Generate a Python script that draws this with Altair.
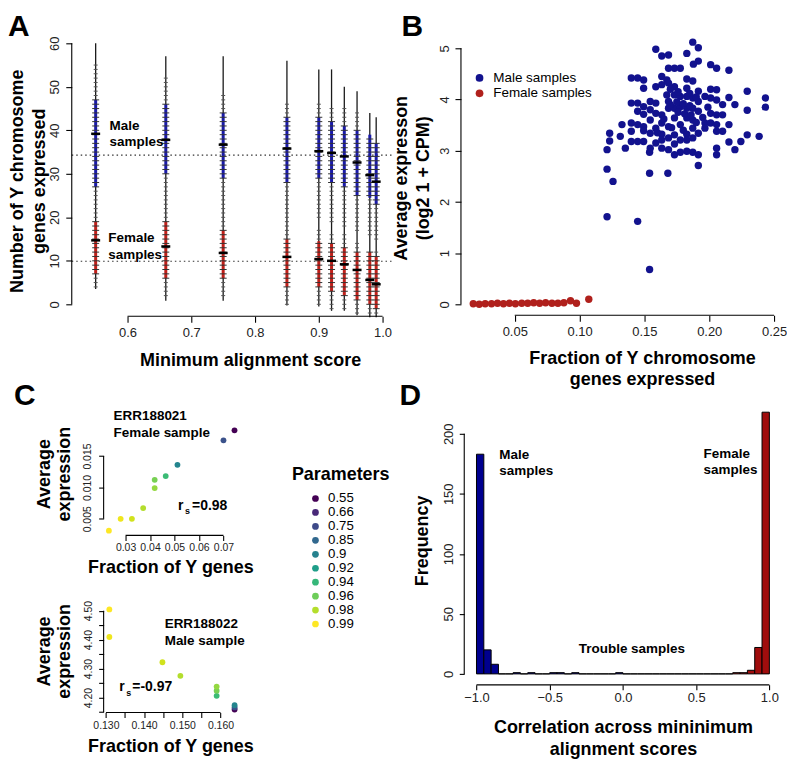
import altair as alt
import pandas as pd

FONT = "Liberation Sans"
INK = "#1a1a1a"
LABEL = "#222222"
BLUE_PT = "#12128e"
RED_PT = "#b0201c"
BLUE_BAR = "#00008f"
RED_BAR = "#a00d0d"
BEAN_BLUE = "#1a1aa8"
BEAN_RED = "#c0201a"
PARAM_COLORS = ["#440154", "#482878", "#3E4A89", "#31688E", "#26828E",
                "#1F9E89", "#35B779", "#6DCD59", "#B4DE2C", "#FDE725"]

# ================= Panel A data =================
A_params = [0.55, 0.66, 0.75, 0.85, 0.90, 0.92, 0.94, 0.96, 0.98, 0.99]
A_top = [60, 57, 57, 56, 54, 54, 50, 49, 44, 43]
A_bottom = [3.5, 0.8, 0.8, -0.3, -0.5, -1.5, -1.5, -2.5, -3.0, -3.0]
A_male_mean = [39.2, 37.8, 36.7, 35.8, 35.2, 34.8, 34.0, 32.6, 29.7, 28.2]
A_female_mean = [14.7, 13.3, 11.8, 10.9, 10.4, 10.0, 9.2, 7.9, 5.6, 4.6]
A_male_core_lo = [27, 30, 29, 28, 29, 28, 27, 25, 24.5, 23]
A_male_core_hi = [47, 46, 44, 43, 43, 42, 41, 40, 39, 37]
A_female_core_lo = [7, 6, 6, 4, 4, 3, 2, 1, 0, -1]
A_female_core_hi = [19, 19, 17, 15, 14.5, 14, 13, 12, 12, 11]
A_male_tick_lo = [22, 21, 20, 20, 20, 19, 18, 17, 16, 15]
A_male_tick_hi = [55, 52, 48, 46, 46, 45, 45, 44, 38, 37]
A_female_tick_lo = [4, 2, 2, 0, 0, -1, -1, -2, -2, -2]
A_female_tick_hi = [21, 20, 19, 19, 17, 16, 16, 14, 12, 12]
A_thresholds = [34.3, 9.9]
A_xticks = [0.6, 0.7, 0.8, 0.9, 1.0]
A_yticks = [0, 10, 20, 30, 40, 50, 60]
A_notes = ["Male\nsamples", "Female\nsamples"]
A_note_x = [0.5719, 0.5698]
A_note_y = [41.1, 15.2]

# ================= Panel B data =================
B_male_points = [
    (0.1873, 5.12), (0.1916, 5.01), (0.1588, 4.98), (0.1634, 4.85), (0.1686, 4.87),
    (0.1827, 4.90), (0.1916, 4.75), (0.1878, 4.69), (0.2011, 4.68), (0.2057, 4.61),
    (0.2152, 4.57), (0.1686, 4.61), (0.1732, 4.61), (0.1777, 4.61),
    (0.1399, 4.42), (0.1448, 4.42), (0.1494, 4.38), (0.1634, 4.45), (0.1673, 4.38),
    (0.1827, 4.40), (0.1873, 4.36),
    (0.1494, 4.22), (0.1588, 4.25), (0.1634, 4.29), (0.1686, 4.32), (0.1732, 4.25),
    (0.1827, 4.22), (0.1916, 4.16), (0.2011, 4.20), (0.2057, 4.19), (0.2293, 4.16),
    (0.1399, 3.93), (0.1448, 3.93), (0.1494, 3.86), (0.1545, 3.96), (0.1588, 3.93),
    (0.1673, 4.09), (0.1686, 3.96), (0.1732, 4.09), (0.1777, 4.06), (0.1827, 4.06),
    (0.1873, 4.03), (0.1916, 3.96), (0.1967, 4.06), (0.2011, 4.03), (0.2057, 3.99),
    (0.2103, 3.90), (0.2152, 4.04), (0.2198, 3.90), (0.2433, 4.03), (0.2433, 3.85),
    (0.2293, 3.79),
    (0.1448, 3.77), (0.1494, 3.71), (0.1545, 3.80), (0.1588, 3.73), (0.1634, 3.70),
    (0.1686, 3.83), (0.1732, 3.83), (0.1777, 3.86), (0.1827, 3.83), (0.1873, 3.83),
    (0.1916, 3.77), (0.2011, 3.73), (0.2057, 3.70), (0.2103, 3.70),
    (0.1545, 3.60), (0.1634, 3.54), (0.1732, 3.64), (0.1827, 3.64), (0.1873, 3.60),
    (0.1967, 3.54), (0.2011, 3.54), (0.2057, 3.51), (0.2152, 3.51),
    (0.1327, 3.51), (0.1399, 3.54), (0.1448, 3.51), (0.1494, 3.47), (0.1588, 3.44),
    (0.1686, 3.47), (0.1777, 3.51), (0.1873, 3.44), (0.1967, 3.44), (0.2103, 3.38),
    (0.1399, 3.38), (0.1494, 3.39), (0.1545, 3.34), (0.1634, 3.32), (0.1732, 3.31),
    (0.1827, 3.32), (0.1916, 3.34), (0.2057, 3.38),
    (0.1232, 3.34), (0.1314, 3.28), (0.1634, 3.21), (0.1686, 3.25), (0.1777, 3.21),
    (0.1827, 3.21), (0.1873, 3.25), (0.2293, 3.31), (0.2385, 3.28),
    (0.1232, 3.19), (0.1399, 3.18), (0.1448, 3.18), (0.1494, 3.18), (0.1588, 3.15),
    (0.1732, 3.13), (0.2152, 3.17), (0.2244, 3.18),
    (0.1353, 3.05), (0.1545, 3.05), (0.1634, 3.05), (0.1686, 3.02), (0.2057, 3.05),
    (0.2198, 3.02), (0.1212, 3.02),
    (0.1540, 2.97), (0.1777, 2.97), (0.1827, 2.99), (0.1873, 2.97), (0.1916, 2.92),
    (0.1732, 2.92), (0.2057, 2.92),
    (0.1916, 2.71), (0.1212, 2.64), (0.1258, 2.40), (0.1540, 2.56), (0.1681, 2.56),
    (0.1212, 1.71), (0.1448, 1.62), (0.1540, 0.68),
    (0.1700, 3.90), (0.1750, 3.95), (0.1800, 3.92), (0.1850, 3.88), (0.1760, 3.75),
    (0.1810, 3.72), (0.1860, 3.70), (0.1710, 3.45), (0.1800, 3.40), (0.1900, 3.55),
    (0.1650, 3.62), (0.1760, 4.15), (0.1850, 4.12), (0.1950, 3.65), (0.1600, 3.35),
    (0.1700, 4.20), (0.1900, 4.05), (0.1990, 3.85),
]
B_female_points = [
    (0.0180, 0.01), (0.0226, 0.00), (0.0272, 0.01), (0.0321, 0.01), (0.0367, 0.02),
    (0.0413, 0.01), (0.0459, 0.02), (0.0505, 0.01), (0.0554, 0.02), (0.0600, 0.02),
    (0.0646, 0.03), (0.0692, 0.02), (0.0738, 0.03), (0.0787, 0.02), (0.0833, 0.02),
    (0.0879, 0.03), (0.0930, 0.07), (0.0976, 0.02), (0.1071, 0.10),
]
B_groups = ["Male samples", "Female samples"]
B_xticks = [0.05, 0.10, 0.15, 0.20, 0.25]
B_yticks = [0, 1, 2, 3, 4, 5]

# ================= Panel C data =================
C_params = [0.55, 0.66, 0.75, 0.85, 0.90, 0.92, 0.94, 0.96, 0.98, 0.99]
C_labels = ["0.55", "0.66", "0.75", "0.85", "0.9", "0.92", "0.94", "0.96", "0.98", "0.99"]
C1_frac = [0.0745, 0.0700, 0.0512, 0.0464, 0.0419, 0.0419, 0.0372, 0.0326, 0.0280, 0.0232]
C1_expr = [0.0191, 0.0175, 0.0136, 0.0118, 0.0112, 0.0099, 0.0067, 0.0050, 0.0050, 0.0031]
C2_frac = [0.1637, 0.1637, 0.1637, 0.1590, 0.1590, 0.1590, 0.1495, 0.1448, 0.1309, 0.1309]
C2_expr = [4.159, 4.166, 4.174, 4.206, 4.224, 4.238, 4.275, 4.322, 4.409, 4.504]
C1_xticks = [0.03, 0.04, 0.05, 0.06, 0.07]
C1_yticks = [0.005, 0.010, 0.015]
C2_xticks = [0.130, 0.135, 0.140, 0.145, 0.150, 0.155, 0.160]
C2_yticks = [4.15, 4.20, 4.25, 4.30, 4.35, 4.40, 4.45, 4.50]

# ================= Panel D data =================
D_counts = [183, 20, 8, 0, 0, 1, 0, 1, 0, 0,
            1, 1, 0, 1, 0, 0, 0, 0, 0, 1,
            0, 0, 0, 0, 0, 0, 0, 0, 0, 0,
            0, 0, 0, 0, 0, 1, 1, 3, 22, 218]
D_bin_width = 0.05
D_xticks = [-1.0, -0.5, 0.0, 0.5, 1.0]
D_yticks = [0, 50, 100, 150, 200]

# ================= layout (pixel geometry) =================
X0, X1 = 97, 459          # left edges of the two columns of plot areas
Y0, Y1 = 35, 427          # top edges of the two rows
W_A, W_B, W_C, W_D = 281, 312, 122, 307.3
H_TOP, H_C, H_D = 262, 280.5, 241


# ================= helpers =================
def ax(**kw):
    base = dict(grid=False, domain=False, labelFont=FONT, titleFont=FONT,
                labelColor=LABEL, titleColor="black", tickColor="black", tickWidth=1.1,
                labelFlush=False, labelOverlap=False, titleFontWeight="bold",
                titleFontSize=18, titleAlign="center", titleBaseline="alphabetic",
                titleLineHeight=22, labelFontSize=13, tickSize=6)
    base.update(kw)
    return alt.Axis(**base)


def yax(**kw):
    base = dict(labelAngle=270, labelAlign="center", labelBaseline="bottom",
                titleAngle=270)
    base.update(kw)
    return ax(**base)


def sc(lo, hi):
    return alt.Scale(domain=[lo, hi], nice=False, zero=False)


def enc_x(scale, axis):
    return lambda f: alt.X(f, scale=scale, axis=axis)


def enc_y(scale, axis):
    return lambda f: alt.Y(f, scale=scale, axis=axis)


def letter(ch, px, py):
    return alt.Chart(pd.DataFrame({"t": [ch]})).mark_text(
        font=FONT, fontSize=30, fontWeight="bold", align="left",
        baseline="alphabetic", color="black"
    ).encode(x=alt.value(px), y=alt.value(py), text="t:N")


def hrule(x0, x1, y):
    """Axis line (horizontal), from the first to the last tick, in plot pixels."""
    return alt.Chart(pd.DataFrame({"k": [0]})).mark_rule(color="black", strokeWidth=1.1).encode(
        x=alt.value(x0), x2=alt.value(x1), y=alt.value(y))


def vrule(x, y0, y1):
    """Axis line (vertical), from the first to the last tick, in plot pixels."""
    return alt.Chart(pd.DataFrame({"k": [0]})).mark_rule(color="black", strokeWidth=1.1).encode(
        x=alt.value(x), y=alt.value(y0), y2=alt.value(y1))


# ================= Panel A =================
dfA = pd.DataFrame({
    "param": A_params, "bottom": A_bottom, "top": A_top,
    "mlo": A_male_core_lo, "mhi": A_male_core_hi,
    "flo": A_female_core_lo, "fhi": A_female_core_hi,
})
core_rows, outer_rows = [], []
for i, p in enumerate(A_params):
    for v in range(A_male_tick_lo[i], A_male_tick_hi[i] + 1):
        (core_rows if A_male_core_lo[i] <= v <= A_male_core_hi[i] else outer_rows).append({"param": p, "value": v})
    for v in range(A_female_tick_lo[i], A_female_tick_hi[i] + 1):
        (core_rows if A_female_core_lo[i] <= v <= A_female_core_hi[i] else outer_rows).append({"param": p, "value": v})
df_core = pd.DataFrame(core_rows)
df_outer = pd.DataFrame(outer_rows)
df_means = pd.DataFrame({"param": A_params + A_params, "mean": A_male_mean + A_female_mean})
df_thr = pd.DataFrame({"thr": A_thresholds})
df_Anotes = pd.DataFrame({"param": A_note_x, "y": A_note_y, "note": A_notes})

A_ppu = 640.0
A_x0 = 121 - X0                      # pixel of 0.6 inside the plot
XA = enc_x(sc(0.6 - A_x0 / A_ppu, 0.6 + (W_A - A_x0) / A_ppu),
           ax(values=A_xticks, format=".1f", offset=12, labelPadding=4,
              title="Minimum alignment score", titleX=147, titleY=49))
YA = enc_y(sc(0, 60),
           yax(values=A_yticks, format="d", offset=32, labelPadding=4,
               title=["Number of Y chromosome", "genes expressed"],
               titleX=-49, titleY=138))

A_outline = alt.Chart(dfA).mark_rule(color=INK, strokeWidth=1.3).encode(
    x=XA("param:Q"), y=YA("bottom:Q"), y2="top:Q")
A_blue = alt.Chart(dfA).mark_rule(color=BEAN_BLUE, strokeWidth=3).encode(
    x=XA("param:Q"), y=YA("mlo:Q"), y2="mhi:Q")
A_red = alt.Chart(dfA).mark_rule(color=BEAN_RED, strokeWidth=3).encode(
    x=XA("param:Q"), y=YA("flo:Q"), y2="fhi:Q")
A_tick_outer = alt.Chart(df_outer).mark_tick(
    orient="horizontal", size=4, thickness=1, color="#555555", opacity=1
).encode(x=XA("param:Q"), y=YA("value:Q"))
A_tick_core = alt.Chart(df_core).mark_tick(
    orient="horizontal", size=7, thickness=1, color="#333333", opacity=1
).encode(x=XA("param:Q"), y=YA("value:Q"))
A_mean = alt.Chart(df_means).mark_tick(
    orient="horizontal", size=9, thickness=2.5, color="black", opacity=1
).encode(x=XA("param:Q"), y=YA("mean:Q"))
A_thr = alt.Chart(df_thr).mark_rule(color="#333333", strokeDash=[1.5, 3], strokeWidth=1.2).encode(
    y=YA("thr:Q"), x=alt.value(-32), x2=alt.value(290))
A_text = alt.Chart(df_Anotes).mark_text(
    font=FONT, fontSize=13.5, fontWeight="bold", align="left", baseline="middle",
    lineBreak="\n", lineHeight=16.5, color="black"
).encode(x=XA("param:Q"), y=YA("y:Q"), text="note:N")

panelA = alt.layer(
    A_thr, A_outline, A_blue, A_red, A_tick_outer, A_tick_core, A_mean, A_text,
    hrule(A_x0, A_x0 + 0.4 * A_ppu, H_TOP + 12),
    vrule(-32, 0, H_TOP),
    letter("A", -96, -7)).properties(width=W_A, height=H_TOP)

# ================= Panel B =================
dfB = pd.DataFrame({
    "frac": [p[0] for p in B_male_points] + [p[0] for p in B_female_points],
    "expr": [p[1] for p in B_male_points] + [p[1] for p in B_female_points],
    "grp": [B_groups[0]] * len(B_male_points) + [B_groups[1]] * len(B_female_points),
})
B_xppu, B_yppu = 1301.5, 51.4
B_x0 = 509.7 - X1                    # pixel of 0.05 inside the plot
XB = enc_x(sc(0.05 - B_x0 / B_xppu, 0.05 + (W_B - B_x0) / B_xppu),
           ax(values=B_xticks, format=".2f", offset=11, labelPadding=4,
              title=["Fraction of Y chromosome", "genes expressed"],
              titleX=178.5, titleY=48))
YB = enc_y(sc(0, H_TOP / B_yppu),
           yax(values=B_yticks, format="d", offset=3.3, labelPadding=4,
               title=["Average expresson", "(log2 1 + CPM)"],
               titleX=-55, titleY=135))
B_pts = alt.Chart(dfB).mark_circle(size=55, opacity=1).encode(
    x=XB("frac:Q"), y=YB("expr:Q"),
    color=alt.Color("grp:N", scale=alt.Scale(domain=B_groups, range=[BLUE_PT, RED_PT]),
                    legend=alt.Legend(orient="none", legendX=8.6, legendY=28, title=None,
                                      direction="vertical", labelFont=FONT, labelFontSize=13.5,
                                      labelColor="black", symbolSize=60, symbolType="circle",
                                      rowPadding=0.5, labelOffset=7, padding=0,
                                      symbolStrokeWidth=0, symbolOpacity=1)),
)
panelB = alt.layer(
    B_pts,
    hrule(B_x0, B_x0 + 0.2 * B_xppu, H_TOP + 11),
    vrule(-3.3, H_TOP - 5 * B_yppu, H_TOP),
    letter("B", -63, -7)).properties(width=W_B, height=H_TOP)

# ================= Panel C (two sub-plots sharing one frame) =================
dfC1 = pd.DataFrame({"frac": C1_frac, "expr": C1_expr, "pval": C_params, "plabel": C_labels})
dfC2 = pd.DataFrame({"frac": C2_frac, "expr": C2_expr, "pval": C_params, "plabel": C_labels})

C1_xppu, C1_yppu = 2458.0, 6300.0
C1_x_ref_px, C1_y_ref_px = 119.0, 512.3      # pixel of 0.03 and of 0.005
C2_xppu, C2_yppu = 3833.0, 291.0
C2_x_ref_px, C2_y_ref_px = 99.3, 604.5       # pixel of 0.130 and of 4.50
C_bottom = Y1 + H_C
C1_axis_px, C2_axis_px = 529.0, 706.7

XC1 = enc_x(sc(0.03 + (X0 - C1_x_ref_px) / C1_xppu, 0.03 + (X0 + W_C - C1_x_ref_px) / C1_xppu),
            ax(orient="bottom", values=C1_xticks, format=".2f", offset=C1_axis_px - C_bottom,
               tickSize=5, labelFontSize=10.5, labelPadding=2,
               title="Fraction of Y genes", titleX=67, titleY=37.5))
YC1 = enc_y(sc(0.005 - (C_bottom - C1_y_ref_px) / C1_yppu, 0.005 + (C1_y_ref_px - Y1) / C1_yppu),
            yax(orient="left", values=C1_yticks, format=".3f", offset=0, tickSize=5,
                labelFontSize=10.5, labelPadding=6,
                title=["Average", "expression"], titleLineHeight=20,
                titleX=-54, titleY=40))
XC2 = enc_x(sc(0.130 + (X0 - C2_x_ref_px) / C2_xppu, 0.130 + (X0 + W_C - C2_x_ref_px) / C2_xppu),
            ax(orient="bottom", values=C2_xticks, offset=C2_axis_px - C_bottom, tickSize=5,
               labelFontSize=10.5, labelPadding=3,
               labelExpr="abs(datum.value*100 - round(datum.value*100)) < 0.01 ? format(datum.value, '.3f') : ''",
               title="Fraction of Y genes", titleX=67, titleY=39))
YC2 = enc_y(sc(4.5 - (C_bottom - C2_y_ref_px) / C2_yppu, 4.5 + (C2_y_ref_px - Y1) / C2_yppu),
            yax(orient="left", values=C2_yticks, offset=0, tickSize=5,
                labelFontSize=10.5, labelPadding=5,
                labelExpr="abs(datum.value*10 - round(datum.value*10)) < 0.01 ? format(datum.value, '.2f') : ''",
                title=["Average", "expression"], titleLineHeight=20,
                titleX=-54, titleY=218))

viridis_q = alt.Scale(scheme="viridis", domain=[0.55, 0.99])

C1_pts = alt.Chart(dfC1).mark_circle(size=34, opacity=1).encode(
    x=XC1("frac:Q"), y=YC1("expr:Q"), color=alt.Color("pval:Q", scale=viridis_q, legend=None))
C1_leg = alt.Chart(dfC1).mark_circle(size=0, opacity=0).encode(
    x=XC1("frac:Q"), y=YC1("expr:Q"),
    color=alt.Color("plabel:N", sort=C_labels,
                    scale=alt.Scale(domain=C_labels, range=PARAM_COLORS),
                    legend=alt.Legend(orient="none", legendX=206, legendY=58.3, title=None,
                                      direction="vertical", labelFont=FONT, labelFontSize=13.3,
                                      labelColor="black", symbolSize=45, symbolType="circle",
                                      rowPadding=0, labelOffset=6, padding=0,
                                      symbolStrokeWidth=0, symbolOpacity=1)))
C1_note = alt.Chart(pd.DataFrame({"frac": [0.02512], "expr": [0.02143],
                                  "note": ["ERR188021\nFemale sample"]})).mark_text(
    font=FONT, fontSize=13.5, fontWeight="bold", align="left", baseline="middle",
    lineBreak="\n", lineHeight=17, color="black").encode(x=XC1("frac:Q"), y=YC1("expr:Q"), text="note:N")
dfC1_r = pd.DataFrame({"frac": [0.05144], "expr": [0.006476]})
C1_r = alt.Chart(dfC1_r).mark_text(font=FONT, fontSize=14, fontWeight="bold", align="left",
                                   baseline="alphabetic", color="black").encode(
    x=XC1("frac:Q"), y=YC1("expr:Q"), text=alt.value("r"))
C1_s = alt.Chart(dfC1_r).mark_text(font=FONT, fontSize=9, fontWeight="bold", align="left",
                                   baseline="alphabetic", color="black", dx=7, dy=5).encode(
    x=XC1("frac:Q"), y=YC1("expr:Q"), text=alt.value("s"))
C1_v = alt.Chart(dfC1_r).mark_text(font=FONT, fontSize=14, fontWeight="bold", align="left",
                                   baseline="alphabetic", color="black", dx=14).encode(
    x=XC1("frac:Q"), y=YC1("expr:Q"), text=alt.value("=0.98"))
C1_layer = alt.layer(C1_pts, C1_leg, C1_note, C1_r, C1_s, C1_v).resolve_scale(color="independent")

C2_pts = alt.Chart(dfC2).mark_circle(size=34, opacity=1).encode(
    x=XC2("frac:Q"), y=YC2("expr:Q"), color=alt.Color("pval:Q", scale=viridis_q, legend=None))
C2_note = alt.Chart(pd.DataFrame({"frac": [0.14539], "expr": [4.4536],
                                  "note": ["ERR188022\nMale sample"]})).mark_text(
    font=FONT, fontSize=13.5, fontWeight="bold", align="left", baseline="middle",
    lineBreak="\n", lineHeight=17, color="black").encode(x=XC2("frac:Q"), y=YC2("expr:Q"), text="note:N")
dfC2_r = pd.DataFrame({"frac": [0.1335], "expr": [4.223]})
C2_r = alt.Chart(dfC2_r).mark_text(font=FONT, fontSize=14, fontWeight="bold", align="left",
                                   baseline="alphabetic", color="black").encode(
    x=XC2("frac:Q"), y=YC2("expr:Q"), text=alt.value("r"))
C2_s = alt.Chart(dfC2_r).mark_text(font=FONT, fontSize=9, fontWeight="bold", align="left",
                                   baseline="alphabetic", color="black", dx=7, dy=5).encode(
    x=XC2("frac:Q"), y=YC2("expr:Q"), text=alt.value("s"))
C2_v = alt.Chart(dfC2_r).mark_text(font=FONT, fontSize=14, fontWeight="bold", align="left",
                                   baseline="alphabetic", color="black", dx=13).encode(
    x=XC2("frac:Q"), y=YC2("expr:Q"), text=alt.value("=-0.97"))
C2_layer = alt.layer(C2_pts, C2_note, C2_r, C2_s, C2_v)

C_title = alt.Chart(pd.DataFrame({"t": ["Parameters"]})).mark_text(
    font=FONT, fontSize=18, fontWeight="bold", align="center", baseline="alphabetic",
    color="black").encode(x=alt.value(238), y=alt.value(46), text="t:N")

C1_x0 = C1_x_ref_px - X0
C2_x0 = C2_x_ref_px - X0
C_lines = [
    hrule(C1_x0, C1_x0 + 0.04 * C1_xppu, C1_axis_px - Y1),
    vrule(0, (C1_y_ref_px - Y1) - 0.010 * C1_yppu, C1_y_ref_px - Y1),
    hrule(C2_x0, C2_x0 + 0.030 * C2_xppu, C2_axis_px - Y1),
    vrule(0, C2_y_ref_px - Y1, (C2_y_ref_px - Y1) + 0.35 * C2_yppu),
]

panelC = alt.layer(C1_layer, C2_layer, C_title, *C_lines, letter("C", -90, -29)).resolve_scale(
    x="independent", y="independent", color="independent"
).resolve_axis(x="independent", y="independent").properties(width=W_C, height=H_C)

# ================= Panel D =================
D_start = [round(-1 + D_bin_width * i, 2) for i in range(len(D_counts))]
dfD = pd.DataFrame({
    "start": D_start,
    "end": [round(s + D_bin_width, 2) for s in D_start],
    "count": D_counts,
    "base": [0] * len(D_counts),
    "grp": ["male" if s < 0 else "female" for s in D_start],
})
D_xppu = 147.0
D_x0 = 471.3 - X1                    # pixel of -1.0 inside the plot
XD = enc_x(sc(-1 - D_x0 / D_xppu, -1 + (W_D - D_x0) / D_xppu),
           ax(values=D_xticks, format=".1f", offset=11, tickSize=5, labelPadding=2,
              title=["Correlation across mininimum", "alignment scores"],
              titleX=159.3, titleY=48))
YD = enc_y(sc(0, 200),
           yax(values=D_yticks, format="d", offset=0, tickSize=5, labelPadding=4,
               title="Frequency", titleX=-37, titleY=107))
D_bars = alt.Chart(dfD).mark_bar(stroke="black", strokeWidth=1).encode(
    x=XD("start:Q"), x2="end:Q", y=YD("count:Q"), y2="base:Q",
    color=alt.Color("grp:N", scale=alt.Scale(domain=["male", "female"], range=[BLUE_BAR, RED_BAR]),
                    legend=None))
dfDnotes = pd.DataFrame({"start": [-0.844, 0.551], "count": [182.6, 183.4],
                         "note": ["Male\nsamples", "Female\nsamples"]})
D_notes = alt.Chart(dfDnotes).mark_text(
    font=FONT, fontSize=13.5, fontWeight="bold", align="left", baseline="middle",
    lineBreak="\n", lineHeight=16.5, color="black").encode(x=XD("start:Q"), y=YD("count:Q"), text="note:N")
D_trouble = alt.Chart(pd.DataFrame({"start": [0.061], "count": [20.7],
                                    "note": ["Trouble samples"]})).mark_text(
    font=FONT, fontSize=13.5, fontWeight="bold", align="center", baseline="middle",
    color="black").encode(x=XD("start:Q"), y=YD("count:Q"), text="note:N")
panelD = alt.layer(
    D_bars, D_notes, D_trouble,
    hrule(D_x0, D_x0 + 2 * D_xppu, H_D + 11),
    vrule(0, 0, H_D),
    letter("D", -65, -29)).properties(width=W_D, height=H_D)

# ================= Layout =================
chart = alt.concat(
    panelA, panelB, panelC, panelD,
    columns=2, bounds="flush", align="each",
    spacing={"row": Y1 - (Y0 + H_TOP), "column": X1 - (X0 + W_A)},
).resolve_scale(color="independent").resolve_legend(color="independent").properties(
    padding={"left": 0, "top": 3, "right": 0, "bottom": 0}
).configure(font=FONT).configure_view(stroke=None)

chart.save("out.html", embed_options={"renderer": "svg", "actions": False})
